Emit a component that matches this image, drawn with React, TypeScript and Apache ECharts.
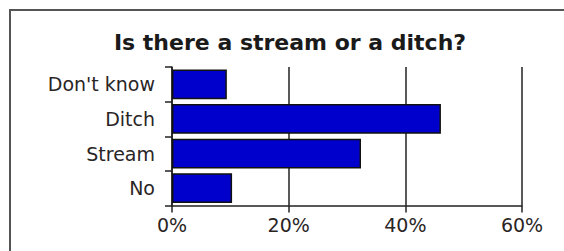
import React, { useEffect, useRef } from "react";
import * as echarts from "echarts";

const categories = ["Don't know", "Ditch", "Stream", "No"];
const values = [9.4, 46.1, 32.4, 10.3];
const xTicks = [0, 20, 40, 60];
const title = "Is there a stream or a ditch?";

export default function App() {
  const ref = useRef<HTMLDivElement>(null);
  useEffect(() => {
    if (!ref.current) return;
    const chart = echarts.init(ref.current, undefined, { renderer: "svg" });
    chart.setOption({
      animation: false,
      backgroundColor: "#ffffff",
      textStyle: { fontFamily: "DejaVu Sans" },
      graphic: [
        {
          type: "rect",
          shape: { x: 10, y: 10, width: 600, height: 300 },
          style: { fill: "none", stroke: "#555", lineWidth: 2 },
          z: 10,
        },
        {
          type: "text",
          x: 290,
          y: 42,
          style: {
            text: title,
            fontFamily: "DejaVu Sans",
            fontWeight: "bold",
            fontSize: 22,
            fill: "#1a1a1a",
            align: "center",
            verticalAlign: "middle",
          },
        },
      ],
      grid: { left: 172, right: 42, top: 67, bottom: 45.5, containLabel: false },
      xAxis: {
        type: "value",
        min: xTicks[0],
        max: xTicks[xTicks.length - 1],
        interval: 20,
        axisLine: { show: true, lineStyle: { color: "#222", width: 1.5 } },
        axisTick: { show: true, length: 7, lineStyle: { color: "#222", width: 1.5 } },
        splitLine: { show: true, lineStyle: { color: "#222", width: 1.5 } },
        axisLabel: {
          formatter: "{value}%",
          fontSize: 19,
          color: "#2a2525",
          margin: 10,
          fontFamily: "DejaVu Sans",
        },
      },
      yAxis: {
        type: "category",
        data: categories,
        inverse: true,
        axisLine: { show: true, lineStyle: { color: "#222", width: 1.5 } },
        axisTick: { show: true, length: 7, lineStyle: { color: "#222", width: 1.5 } },
        axisLabel: {
          fontSize: 19,
          color: "#2a2525",
          margin: 17,
          fontFamily: "DejaVu Sans",
        },
      },
      series: [
        {
          type: "bar",
          data: values,
          barCategoryGap: "14%",
          itemStyle: { color: "#0000cc", borderColor: "#111", borderWidth: 1.5 },
        },
      ],
    });
    return () => chart.dispose();
  }, []);
  return (
    <div
      ref={ref}
      style={{ position: "absolute", left: 0, top: 0, width: 564, height: 251 }}
    />
  );
}
